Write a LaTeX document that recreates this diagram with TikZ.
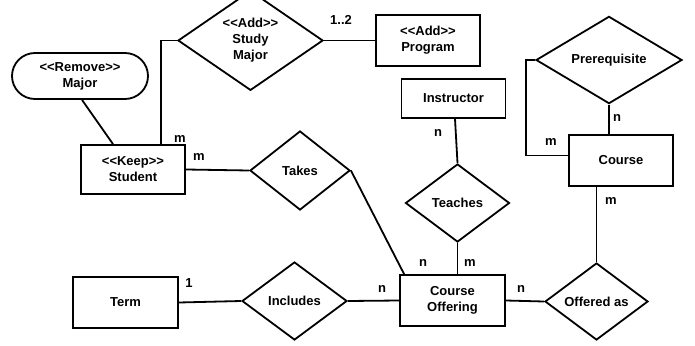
\documentclass[tikz,border=0pt]{standalone}
\usepackage{fontspec}
\setmainfont{Liberation Sans}
\usepackage{tikz}
\usetikzlibrary{shapes.geometric,calc}
\newcommand{\stype}[1]{<\kern0pt<#1>\kern0pt>}
\tikzset{
  erline/.style={line width=1.8pt},
  entity/.style={draw, erline, rectangle, minimum width=104pt, minimum height=50pt, align=center, inner sep=0pt, font=\fontsize{13}{16}\selectfont\bfseries},
  relship/.style={draw, erline, diamond, minimum width=104pt, minimum height=78pt, inner sep=0pt, align=center, font=\fontsize{13}{16}\selectfont\bfseries},
  widerel/.style={relship, minimum width=145pt},
  attrib/.style={draw, erline, rectangle, rounded corners=23pt, minimum width=136pt, minimum height=46pt, align=center, inner sep=0pt, font=\fontsize{13}{16}\selectfont\bfseries},
  card/.style={font=\fontsize{13}{15}\selectfont\bfseries, inner sep=0pt}
}
\begin{document}
\begin{tikzpicture}[x=1pt, y=-1pt]
  \useasboundingbox (0,0) rectangle (695,345);

  \node[attrib] (major) at (80,76) {\stype{Remove}\\Major};
  \node[widerel] (studymajor) at (250.5,40.5) {\stype{Add}\\Study\\Major};
  \node[entity, minimum height=51pt] (program) at (428,40.5) {\stype{Add}\\Program};
  \node[entity, minimum height=49pt] (student) at (133,169.5) {\stype{Keep}\\Student};
  \node[relship, minimum width=100pt, minimum height=79pt] (takes) at (300,170.5) {Takes};
  \node[entity, minimum height=39pt] (instructor) at (453.5,98.5) {Instructor};
  \node[relship] (teaches) at (457.5,203) {Teaches};
  \node[widerel, minimum width=146pt] (prereq) at (609,60) {Prerequisite};
  \node[entity, minimum height=51pt] (course) at (621,160.5) {Course};
  \node[entity, minimum width=105pt, minimum height=51pt] (term) at (125.5,302.5) {Term};
  \node[relship, minimum width=105pt] (includes) at (294.5,301) {Includes};
  \node[entity, minimum width=105pt, minimum height=51pt] (offering) at (452.5,300.5) {Course\\Offering};
  \node[relship, minimum width=103pt, minimum height=77pt] (offeredas) at (596.5,301.5) {Offered as};

  \draw[erline] ([xshift=2pt]major.south) -- ([xshift=-20pt]student.north);
  \draw[erline] ([xshift=-25pt]student.north east) |- (studymajor.west);
  \draw[erline] (studymajor.east) -- (program.west);
  \draw[erline] (student.east) -- (takes.west);
  \draw[erline] (takes.east) -- ([xshift=5pt]offering.north west);
  \draw[erline] ([xshift=1.5pt]instructor.south) -- (teaches.north);
  \draw[erline] (teaches.south) -- (offering.north -| teaches.south);
  \draw[erline] (term.east) -- (includes.west);
  \draw[erline] (includes.east) -- (offering.west);
  \draw[erline] (offering.east) -- (offeredas.west);
  \draw[erline] (offeredas.north) -- (course.south -| offeredas.north);
  \draw[erline] (prereq.south) -- (course.north -| prereq.south);
  \draw[erline] (prereq.west) -- ++(-9,0) |- ([yshift=5pt]course.west);

  \node[card] (c1) at (180,139) {m};
  \node[card] (c2) at (199,157) {m};
  \node[card] (c3) at (341,20) {1..2};
  \node[card] (c4) at (438,133) {n};
  \node[card] (c5) at (617,118) {n};
  \node[card] (c6) at (551,142) {m};
  \node[card] (c7) at (611,201) {m};
  \node[card] (c8) at (423,263) {n};
  \node[card] (c9) at (470,263) {m};
  \node[card] (c10) at (382,289) {n};
  \node[card] (c11) at (521,289) {n};
  \node[card] (c12) at (189,283) {1};
\end{tikzpicture}
\end{document}
